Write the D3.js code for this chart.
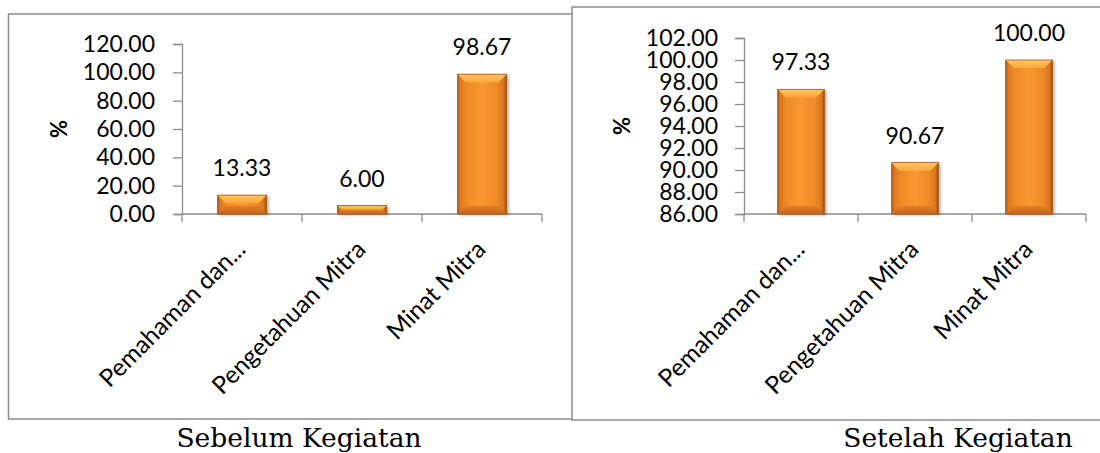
<!DOCTYPE html>
<html>
<head>
<meta charset="utf-8">
<script src="https://cdn.jsdelivr.net/npm/d3@7"></script>
<style>
  html, body { margin: 0; padding: 0; background: #fff; }
  svg { display: block; }
</style>
</head>
<body>
<svg id="chart" width="1100" height="453"></svg>
<script>
// Categories and values for the two survey panels
const categories = ["Pemahaman dan...", "Pengetahuan Mitra", "Minat Mitra"];
const beforeValues = [13.33, 6.00, 98.67];
const afterValues = [97.33, 90.67, 100.00];
const beforeTicks = [0, 20, 40, 60, 80, 100, 120];
const afterTicks = [86, 88, 90, 92, 94, 96, 98, 100, 102];
const captions = ["Sebelum Kegiatan", "Setelah Kegiatan"];

const svg = d3.select("#chart");
const labelFont = "Lato, 'Open Sans', sans-serif";
const labelSize = 23;

// Gradients for the bevelled orange bars
const defs = svg.append("defs");
const bodyGrad = defs.append("linearGradient").attr("id", "barBody").attr("x1", 0).attr("x2", 1).attr("y1", 0).attr("y2", 0);
[[0, "#b05a17"], [0.06, "#dc7a22"], [0.2, "#f08a28"], [0.5, "#f8982f"], [0.8, "#f08a28"], [0.94, "#d87621"], [1, "#964b12"]]
  .forEach(([o, c]) => bodyGrad.append("stop").attr("offset", o).attr("stop-color", c));
const topGrad = defs.append("linearGradient").attr("id", "barTop").attr("x1", 0).attr("x2", 0).attr("y1", 0).attr("y2", 1);
[[0, "#ffc660"], [1, "#fba83c"]].forEach(([o, c]) => topGrad.append("stop").attr("offset", o).attr("stop-color", c));
const botGrad = defs.append("linearGradient").attr("id", "barBot").attr("x1", 0).attr("x2", 0).attr("y1", 0).attr("y2", 1);
[[0, "#e27f24"], [1, "#c4661b"]].forEach(([o, c]) => botGrad.append("stop").attr("offset", o).attr("stop-color", c));
const shadowFilter = defs.append("filter").attr("id", "barShadow").attr("x", "-20%").attr("y", "-20%").attr("width", "150%").attr("height", "150%");
shadowFilter.append("feDropShadow").attr("dx", 2).attr("dy", 1).attr("stdDeviation", 1.5).attr("flood-color", "#000").attr("flood-opacity", 0.35);

function panel(cfg) {
  const g = svg.append("g");
  // outer frame
  g.append("rect")
    .attr("x", cfg.frame[0]).attr("y", cfg.frame[1])
    .attr("width", cfg.frame[2]).attr("height", cfg.frame[3])
    .attr("fill", "#fff").attr("stroke", "#8c8c8c").attr("stroke-width", 1.5);

  const x = d3.scaleBand().domain(categories).range([cfg.x0, cfg.x1]).paddingInner(0.59).paddingOuter(0.295);
  const xb = d3.scaleBand().domain(categories).range([cfg.x0, cfg.x1]);
  const y = d3.scaleLinear().domain(cfg.domain).range([cfg.y0, cfg.y1]);

  // y axis
  const ya = g.append("g").attr("transform", `translate(${cfg.x0},0)`)
    .call(d3.axisLeft(y).tickValues(cfg.ticks).tickFormat(d3.format(".2f")).tickSize(9).tickPadding(cfg.tickPad));
  ya.select(".domain").attr("stroke", "#8c8c8c").attr("stroke-width", 1.3);
  ya.selectAll(".tick line").attr("stroke", "#8c8c8c").attr("stroke-width", 1.3);
  ya.selectAll(".tick text").attr("font-family", labelFont).attr("font-size", labelSize).attr("fill", "#000");

  // x axis with boundary ticks
  const xa = g.append("g").attr("transform", `translate(0,${cfg.y0})`);
  xa.append("line").attr("x1", cfg.x0).attr("x2", cfg.x1).attr("stroke", "#8c8c8c").attr("stroke-width", 1.3);
  const bounds = categories.map(c => xb(c)).concat([cfg.x1]);
  xa.selectAll("line.tk").data(bounds).enter().append("line").attr("class", "tk")
    .attr("x1", d => d).attr("x2", d => d).attr("y1", 0).attr("y2", 8)
    .attr("stroke", "#8c8c8c").attr("stroke-width", 1.3);

  // rotated category labels
  g.selectAll("text.cat").data(categories).enter().append("text").attr("class", "cat")
    .attr("transform", c => `translate(${xb(c) + xb.bandwidth() / 2 + 5},${cfg.y0 + 37}) rotate(-45)`)
    .attr("text-anchor", "end")
    .attr("font-family", labelFont).attr("font-size", 24.5).attr("fill", "#000")
    .text(c => c);

  // y axis title
  g.append("text")
    .attr("transform", `translate(${cfg.titleX},${(cfg.y0 + cfg.y1) / 2}) rotate(-90)`)
    .attr("text-anchor", "middle").attr("dy", "0.35em")
    .attr("font-family", labelFont).attr("font-weight", "bold").attr("font-size", 22)
    .text("%");

  // bars
  const bars = g.selectAll("g.bar").data(cfg.values.map((v, i) => ({ c: categories[i], v }))).enter()
    .append("g").attr("class", "bar");
  bars.each(function (d) {
    const bx = x(d.c), bw = x.bandwidth();
    const by = y(d.v), bh = cfg.y0 - by;
    const bev = Math.min(8, bh / 2);
    const s = d3.select(this);
    s.append("rect").attr("x", bx).attr("y", by).attr("width", bw).attr("height", bh)
      .attr("fill", "url(#barBody)").attr("filter", "url(#barShadow)");
    s.append("polygon")
      .attr("points", [[bx, by], [bx + bw, by], [bx + bw - bev, by + bev], [bx + bev, by + bev]].map(p => p.join(",")).join(" "))
      .attr("fill", "url(#barTop)");
    s.append("polygon")
      .attr("points", [[bx, cfg.y0], [bx + bw, cfg.y0], [bx + bw - bev, cfg.y0 - bev], [bx + bev, cfg.y0 - bev]].map(p => p.join(",")).join(" "))
      .attr("fill", "url(#barBot)");
    s.append("rect").attr("x", bx).attr("y", by).attr("width", bw).attr("height", bh)
      .attr("fill", "none").attr("stroke", "#a85a18").attr("stroke-width", 0.8);
    s.append("text")
      .attr("x", bx + bw / 2).attr("y", by - 19)
      .attr("text-anchor", "middle")
      .attr("font-family", labelFont).attr("font-size", labelSize).attr("fill", "#000")
      .text(d3.format(".2f")(d.v));
  });

  // caption below the frame
  svg.append("text")
    .attr("x", cfg.captionX).attr("y", 447)
    .attr("text-anchor", "middle")
    .attr("font-family", "'DejaVu Serif', 'Liberation Serif', serif").attr("font-size", 26.5)
    .attr("fill", "#000")
    .text(cfg.caption);
}

panel({
  frame: [8.5, 14, 600, 405],
  x0: 182, x1: 542, y0: 214, y1: 44,
  domain: [0, 120], ticks: beforeTicks, values: beforeValues,
  tickPad: 18, titleX: 59, caption: captions[0], captionX: 299
});

panel({
  frame: [572, 7, 540, 413],
  x0: 744, x1: 1086, y0: 214, y1: 38,
  domain: [86, 102], ticks: afterTicks, values: afterValues,
  tickPad: 17, titleX: 622, caption: captions[1], captionX: 958
});
</script>
</body>
</html>
